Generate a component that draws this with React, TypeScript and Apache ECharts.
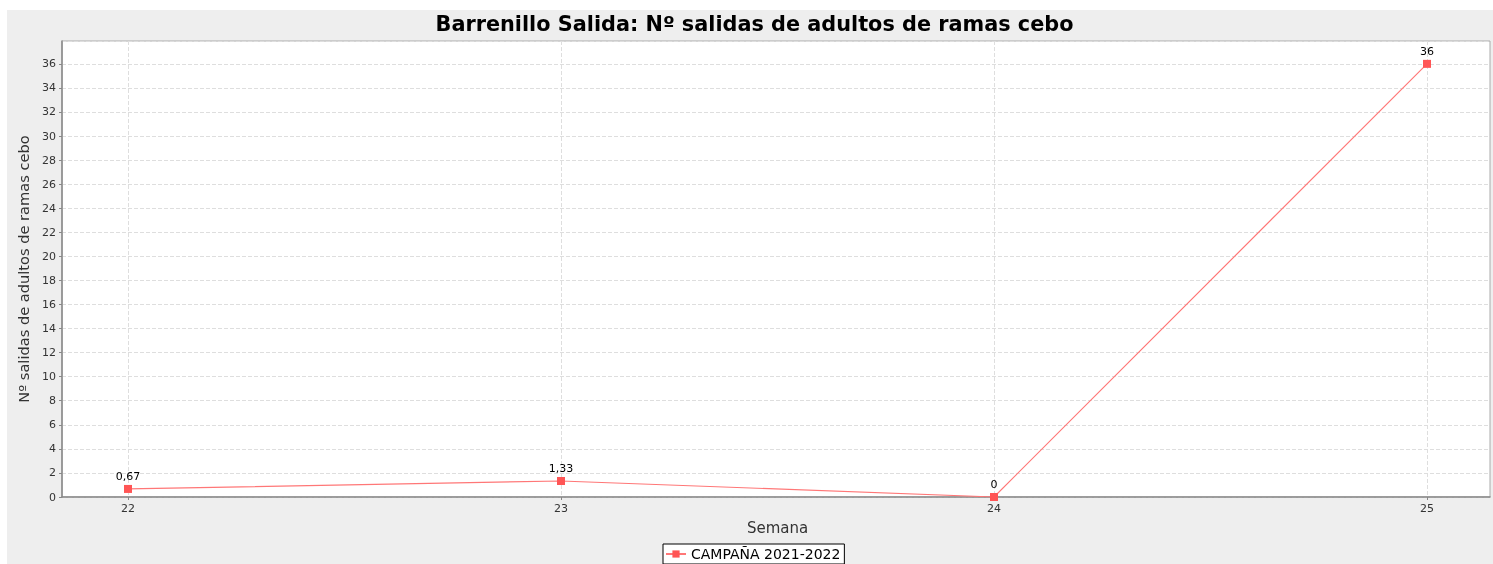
import React, { useEffect, useRef } from "react";
import * as echarts from "echarts";

const weeks = ["22", "23", "24", "25"];
const values = [0.67, 1.33, 0, 36];
const seriesName = "CAMPAÑA 2021-2022";
const title = "Barrenillo Salida: Nº salidas de adultos de ramas cebo";
const yName = "Nº salidas de adultos de ramas cebo";
const xName = "Semana";

const FONT = "DejaVu Sans";

export default function App() {
  const ref = useRef<HTMLDivElement>(null);
  useEffect(() => {
    const chart = echarts.init(ref.current!, null, { renderer: "svg" });
    const yCommon = { type: "value", min: 0, max: 37.9, interval: 2 };
    chart.setOption({
      animation: false,
      textStyle: { fontFamily: FONT },
      graphic: [
        {
          type: "rect",
          z: -10,
          silent: true,
          shape: { x: 7, y: 10, width: 1486, height: 554 },
          style: { fill: "#eeeeee" },
        },
        {
          type: "text",
          x: 754.5,
          y: 24,
          style: {
            text: title,
            font: `bold 20.8px '${FONT}'`,
            fill: "#000",
            align: "center",
            verticalAlign: "middle",
          },
        },
      ],
      grid: [
        { left: 62, top: 41, width: 1428, height: 456, show: true, backgroundColor: "#fff", borderColor: "#aaa", borderWidth: 1 },
        { left: 128, top: 41, width: 1299, height: 456 },
      ],
      xAxis: [
        {
          type: "value",
          gridIndex: 0,
          min: 0,
          max: 1,
          axisLine: { show: true, onZero: false, lineStyle: { color: "#888", width: 1.5 } },
          axisTick: { show: false },
          axisLabel: { show: false },
          splitLine: { show: false },
        },
        {
          type: "category",
          gridIndex: 1,
          data: weeks,
          boundaryGap: false,
          name: xName,
          nameLocation: "middle",
          nameGap: 23,
          nameTextStyle: { fontSize: 15, color: "#333", fontFamily: FONT },
          axisLine: { show: false },
          axisTick: { show: true, length: 3, lineStyle: { color: "#888" } },
          axisLabel: { fontSize: 11, color: "#333", margin: 6, fontFamily: FONT },
          splitLine: { show: true, lineStyle: { type: "dashed", color: "#dedede" } },
        },
      ],
      yAxis: [
        {
          ...yCommon,
          gridIndex: 0,
          name: yName,
          nameLocation: "middle",
          nameGap: 22,
          nameTextStyle: { fontSize: 14.6, color: "#333", fontFamily: FONT },
          axisLine: { show: true, lineStyle: { color: "#888", width: 1.5 } },
          axisTick: { show: true, length: 3, lineStyle: { color: "#888" } },
          axisLabel: { fontSize: 11, color: "#333", margin: 6, fontFamily: FONT, showMaxLabel: false },
          splitLine: { show: true, lineStyle: { type: "dashed", color: "#dedede" } },
        },
        { ...yCommon, gridIndex: 1, show: false, splitLine: { show: false } },
      ],
      legend: {
        top: 544,
        left: 663,
        data: [seriesName],
        backgroundColor: "#fff",
        borderColor: "#000",
        borderWidth: 1,
        borderRadius: 0,
        padding: [3, 4, 3, 2],
        itemWidth: 20,
        itemHeight: 9,
        itemGap: 4,
        textStyle: { fontSize: 14, color: "#000", fontFamily: FONT },
      },
      series: [
        {
          name: seriesName,
          type: "line",
          xAxisIndex: 1,
          yAxisIndex: 1,
          data: values,
          symbol: "rect",
          symbolSize: 8,
          itemStyle: { color: "#ff5555" },
          lineStyle: { color: "#ff7777", width: 1.2 },
          label: {
            show: true,
            position: "top",
            distance: 3,
            fontSize: 11,
            color: "#000",
            fontFamily: FONT,
            formatter: (p: any) => String(p.value).replace(".", ","),
          },
        },
      ],
    });
    return () => chart.dispose();
  }, []);
  return <div ref={ref} style={{ position: "fixed", left: 0, top: 0, width: 1493, height: 564 }} />;
}
